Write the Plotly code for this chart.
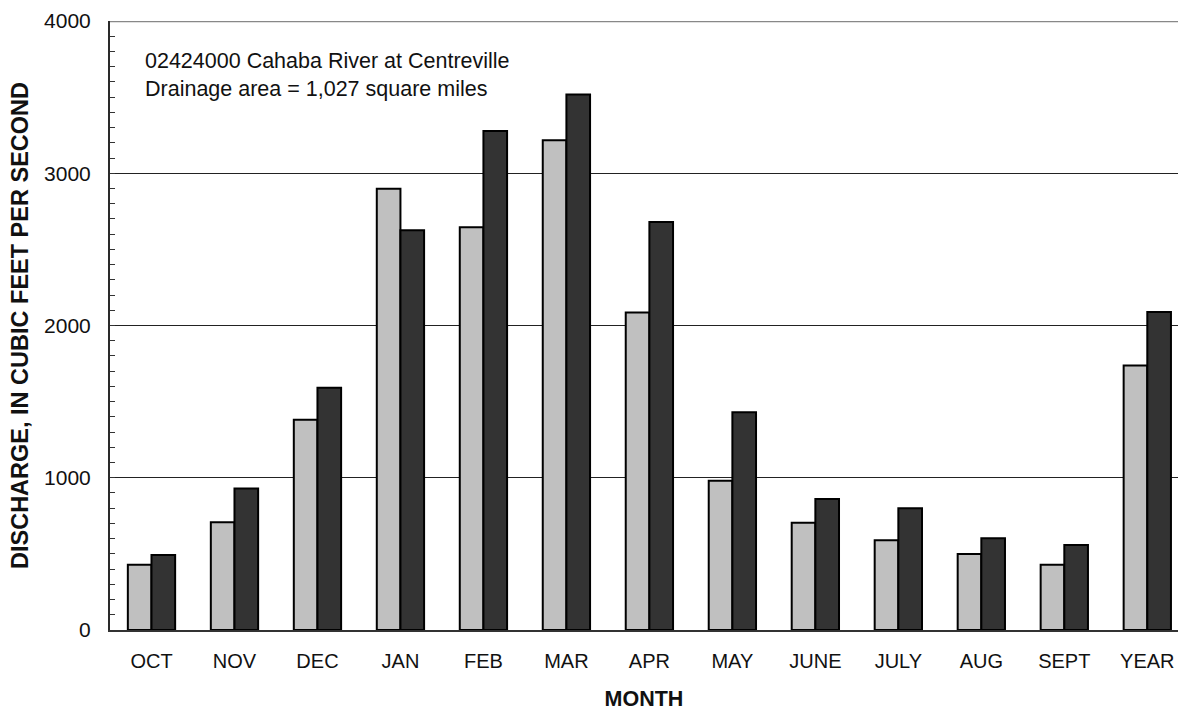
import plotly.graph_objects as go

months = ["OCT", "NOV", "DEC", "JAN", "FEB", "MAR", "APR", "MAY", "JUNE", "JULY", "AUG", "SEPT", "YEAR"]
series_light = [429, 707, 1381, 2898, 2646, 3217, 2086, 980, 704, 589, 499, 428, 1738]
series_dark = [492, 930, 1591, 2626, 3278, 3517, 2679, 1431, 860, 799, 602, 559, 2088]
y_ticks = [0, 1000, 2000, 3000, 4000]
annotation_lines = ["02424000 Cahaba River at Centreville", "Drainage area = 1,027 square miles"]

FONT = "Liberation Sans, Arial, Helvetica, sans-serif"

fig = go.Figure()
fig.add_trace(go.Bar(x=months, y=series_light, marker=dict(color="#c0c0c0", line=dict(color="#000000", width=2)),
                     showlegend=False, hoverinfo="x+y"))
fig.add_trace(go.Bar(x=months, y=series_dark, marker=dict(color="#333333", line=dict(color="#000000", width=2)),
                     showlegend=False, hoverinfo="x+y"))

fig.update_layout(
    width=1178, height=711,
    margin=dict(l=110, r=0, t=21, b=81),
    paper_bgcolor="white", plot_bgcolor="white",
    barmode="group", bargap=0.43, bargroupgap=0,
    font=dict(family=FONT, size=20, color="#111111"),
    xaxis=dict(
        range=[-0.5, 12.37], showgrid=False, showline=True, linecolor="#333333", linewidth=2,
        ticks="", tickfont=dict(size=20, color="#111111"), ticklabelstandoff=12,
        title=dict(text="<b>MONTH</b>", font=dict(size=21.5, color="#111111"), standoff=20),
        fixedrange=True,
    ),
    yaxis=dict(
        range=[0, 4000], tickvals=y_ticks, showgrid=True, gridcolor="#222222", gridwidth=1,
        showline=True, linecolor="#2a2a2a", linewidth=2, zeroline=False,
        ticks="inside", ticklen=5, tickcolor="#333333", tickwidth=1,
        minor=dict(dtick=100, ticks="inside", ticklen=5, tickcolor="#333333", tickwidth=1, showgrid=False),
        tickfont=dict(size=21, color="#111111"), ticklabelstandoff=13,
        title=dict(text="<b>DISCHARGE, IN CUBIC FEET PER SECOND</b>", font=dict(size=23.5, color="#111111"), standoff=9),
        fixedrange=True,
    ),
    shapes=[dict(type="line", xref="paper", yref="y", x0=0, x1=1, y0=4000, y1=4000,
                 line=dict(color="#888888", width=2.5))],
)

for txt, yp in zip(annotation_lines, [0.934, 0.888]):
    fig.add_annotation(xref="paper", yref="paper", x=0.031, y=yp, xanchor="left", yanchor="middle",
                       text=txt, showarrow=False, font=dict(size=21.5, color="#111111"))

fig.write_html("out.html", config={"displayModeBar": False},
               post_script="document.body.style.margin='0';document.body.style.overflow='hidden';")
